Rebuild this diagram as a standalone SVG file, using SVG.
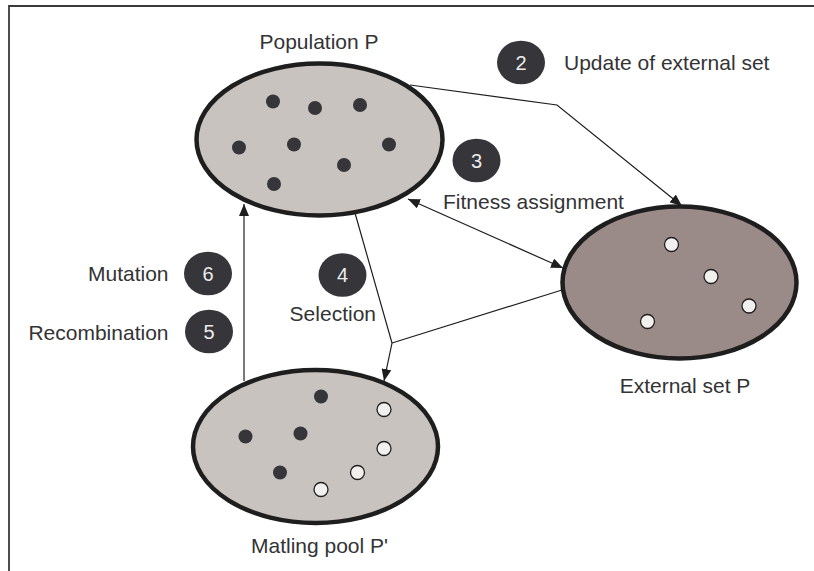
<svg xmlns="http://www.w3.org/2000/svg" width="814" height="571" viewBox="0 0 814 571">
  <style>
    text { font-family: "Liberation Sans", Arial, sans-serif; font-size: 21px; fill: #333335; }
    .set { stroke: #1e1e1e; stroke-width: 4.5; }
    .light { fill: #c9c3c0; }
    .dark { fill: #9a8b88; }
    .ind { fill: #35353a; }
    .sol { fill: #f2f0ee; stroke: #1e1e1e; stroke-width: 1.3; }
    .badge ellipse { fill: #35353a; }
    .badge text { fill: #ececec; font-size: 20px; text-anchor: middle; }
    .conn { fill: none; stroke: #1e1e1e; stroke-width: 1.2; }
    .frame { fill: none; stroke: #3a3a3a; stroke-width: 1.8; }
  </style>
  <defs>
    <marker id="arrow" viewBox="0 0 12 10" refX="12" refY="5" markerWidth="12" markerHeight="10" markerUnits="userSpaceOnUse" orient="auto-start-reverse">
      <path d="M0,0 L12,5 L0,10 Z" fill="#1e1e1e"/>
    </marker>
  </defs>

  <rect width="814" height="571" fill="#ffffff"/>
  <path class="frame" d="M9,571 V6 H814"/>

  <!-- connectors -->
  <g id="connectors">
    <polyline class="conn" points="410,85 557,105 682,206" marker-end="url(#arrow)"/>
    <line class="conn" x1="408" y1="199" x2="563" y2="268" marker-start="url(#arrow)" marker-end="url(#arrow)"/>
    <polyline class="conn" points="355,213 392,343 384,381" marker-end="url(#arrow)"/>
    <line class="conn" x1="562" y1="290" x2="392" y2="343"/>
    <line class="conn" x1="244" y1="381" x2="244" y2="204" marker-end="url(#arrow)"/>
  </g>

  <!-- population -->
  <g id="population">
    <ellipse class="set light" cx="319.5" cy="139.5" rx="123" ry="76"/>
    <circle class="ind" cx="273" cy="101.5" r="7"/>
    <circle class="ind" cx="315" cy="108" r="7"/>
    <circle class="ind" cx="360" cy="105" r="7"/>
    <circle class="ind" cx="239" cy="147.5" r="7"/>
    <circle class="ind" cx="294" cy="144.5" r="7"/>
    <circle class="ind" cx="389" cy="144.5" r="7"/>
    <circle class="ind" cx="344" cy="165" r="7"/>
    <circle class="ind" cx="274" cy="184" r="7"/>
    <text x="319" y="49" text-anchor="middle">Population P</text>
  </g>

  <!-- external set -->
  <g id="external-set">
    <ellipse class="set dark" cx="679.5" cy="282.5" rx="117" ry="76"/>
    <circle class="sol" cx="671.5" cy="244.5" r="7"/>
    <circle class="sol" cx="711" cy="276.5" r="7"/>
    <circle class="sol" cx="749" cy="306" r="7"/>
    <circle class="sol" cx="647.5" cy="321.5" r="7"/>
    <text x="685" y="392.5" text-anchor="middle">External set P</text>
  </g>

  <!-- mating pool -->
  <g id="mating-pool">
    <ellipse class="set light" cx="315.5" cy="446.5" rx="122.5" ry="76.5"/>
    <circle class="ind" cx="321" cy="396.5" r="7"/>
    <circle class="ind" cx="245.5" cy="436.5" r="7"/>
    <circle class="ind" cx="300.5" cy="433.5" r="7"/>
    <circle class="ind" cx="280" cy="472.5" r="7"/>
    <circle class="sol" cx="384" cy="409.5" r="7"/>
    <circle class="sol" cx="384" cy="448.5" r="7"/>
    <circle class="sol" cx="357.5" cy="472.5" r="7"/>
    <circle class="sol" cx="321" cy="489.5" r="7"/>
    <text x="319.5" y="553" text-anchor="middle">Matling pool P'</text>
  </g>

  <!-- steps -->
  <g id="step-2" class="badge">
    <ellipse cx="521" cy="62.5" rx="24" ry="21.8"/>
    <text x="521" y="69.5">2</text>
  </g>
  <text x="564" y="70">Update of external set</text>

  <g id="step-3" class="badge">
    <ellipse cx="476.5" cy="160.5" rx="24" ry="21.8"/>
    <text x="476.5" y="167.5">3</text>
  </g>
  <text x="443" y="208.5">Fitness assignment</text>

  <g id="step-4" class="badge">
    <ellipse cx="342.5" cy="275" rx="24" ry="21.8"/>
    <text x="342.5" y="282">4</text>
  </g>
  <text x="376" y="321" text-anchor="end">Selection</text>

  <g id="step-6" class="badge">
    <ellipse cx="208" cy="273.5" rx="24" ry="21.8"/>
    <text x="208" y="280.5">6</text>
  </g>
  <text x="168.5" y="281" text-anchor="end">Mutation</text>

  <g id="step-5" class="badge">
    <ellipse cx="209" cy="331.5" rx="24" ry="21.8"/>
    <text x="209" y="338.5">5</text>
  </g>
  <text x="168.5" y="340" text-anchor="end">Recombination</text>
</svg>
